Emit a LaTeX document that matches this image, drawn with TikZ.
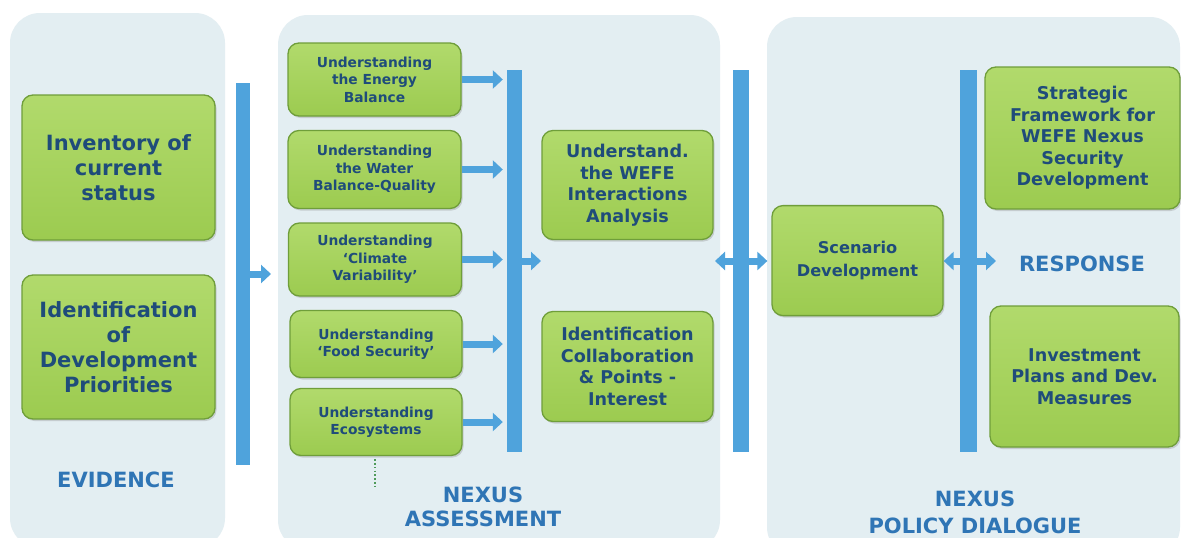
\documentclass[tikz,border=0pt]{standalone}
\usepackage{fontspec}
\setmainfont{DejaVu Sans}
\usetikzlibrary{arrows.meta,shadows}
\definecolor{panelbg}{HTML}{E3EEF2}
\definecolor{gtop}{HTML}{B1DA6C}
\definecolor{gbot}{HTML}{9CCB50}
\definecolor{gborder}{HTML}{6F9E3A}
\definecolor{tblue}{HTML}{1F4C7A}
\definecolor{lblue}{HTML}{2F75B5}
\definecolor{barblue}{HTML}{4FA3DC}
\definecolor{dotgreen}{HTML}{4E9A5A}
\tikzset{
  panel/.style={fill=panelbg, rounded corners=30pt, inner sep=0pt, draw=none},
  gbox/.style={draw=gborder, line width=1.3pt, rounded corners=11pt,
    top color=gtop, bottom color=gbot,
    drop shadow={opacity=0.3, shadow xshift=1.5pt, shadow yshift=-2pt},
    text=tblue, align=center, inner sep=2pt},
  bigtxt/.style={font=\fontsize{21}{25}\selectfont\bfseries},
  smalltxt/.style={font=\fontsize{13.8}{17.5}\selectfont\bfseries},
  midtxt/.style={font=\fontsize{17.6}{21.5}\selectfont\bfseries},
  lbl/.style={text=lblue, align=center, font=\fontsize{21}{24}\selectfont\bfseries},
  bar/.style={fill=barblue, inner sep=0pt, draw=none},
  barrow/.style={draw=barblue, line width=7pt, -{Triangle[length=10pt,width=18pt]}},
  dotline/.style={draw=dotgreen, line width=1.8pt, dash pattern=on 1.6pt off 2.2pt}
}
\begin{document}
\begin{tikzpicture}[x=1pt,y=-1pt]
\useasboundingbox (0,0) rectangle (1181,538);
\fill[white] (0,0) rectangle (1181,538);
% panels
\node[panel, minimum width=215pt, minimum height=535pt] (p1) at (117.5,280.5) {};
\node[panel, minimum width=442pt, minimum height=535pt] (p2) at (499,282.5) {};
\node[panel, minimum width=413pt, minimum height=540pt] (p3) at (973.5,287) {};
% bars
\node[bar, minimum width=14pt, minimum height=382pt] (bar1) at (243,274) {};
\node[bar, minimum width=15pt, minimum height=382pt] (bar2) at (514.5,261) {};
\node[bar, minimum width=16pt, minimum height=382pt] (bar3) at (741,261) {};
\node[bar, minimum width=17pt, minimum height=382pt] (bar4) at (968.5,261) {};
% evidence boxes
\node[gbox, bigtxt, minimum width=193pt, minimum height=145pt] (inv) at (118.5,167.5) {Inventory of\\current\\status};
\node[gbox, bigtxt, minimum width=193pt, minimum height=144pt] (idp) at (118.5,347) {Identification\\of\\Development\\Priorities};
\node[lbl] (ev) at (116,480) {EVIDENCE};
% assessment boxes
\node[gbox, smalltxt, minimum width=173pt, minimum height=73pt] (e1) at (374.5,79.5) {Understanding\\the Energy\\Balance};
\node[gbox, smalltxt, minimum width=173pt, minimum height=78pt] (e2) at (374.5,169.5) {Understanding\\the Water\\Balance-Quality};
\node[gbox, smalltxt, minimum width=173pt, minimum height=73pt] (e3) at (375,259.5) {Understanding\\‘Climate\\Variability’};
\node[gbox, smalltxt, minimum width=172pt, minimum height=67pt] (e4) at (376,344) {Understanding\\‘Food Security’};
\node[gbox, smalltxt, minimum width=172pt, minimum height=67pt] (e5) at (376,422) {Understanding\\Ecosystems};
\node[gbox, midtxt, minimum width=171pt, minimum height=109pt] (wefe) at (627.5,185) {Understand.\\the WEFE\\Interactions\\Analysis};
\node[gbox, midtxt, minimum width=171pt, minimum height=110pt] (coll) at (627.5,366.5) {Identification\\Collaboration\\\& Points -\\Interest};
\node[lbl] (na) at (483,507) {NEXUS\\ASSESSMENT};
% policy dialogue boxes
\node[gbox, font=\fontsize{16.2}{23}\selectfont\bfseries, minimum width=171pt, minimum height=110pt] (scen) at (857.5,260.6) {Scenario\\Development};
\node[gbox, midtxt, minimum width=195pt, minimum height=142pt] (strat) at (1082.5,138) {Strategic\\Framework for\\WEFE Nexus\\Security\\Development};
\node[gbox, midtxt, minimum width=189pt, minimum height=141pt] (inv2) at (1084.5,376.5) {Investment\\Plans and Dev.\\Measures};
\node[lbl] (resp) at (1082,264) {RESPONSE};
\node[lbl, font=\fontsize{21}{27}\selectfont\bfseries] (npd) at (975,512) {NEXUS\\POLICY DIALOGUE};
% free ends
\coordinate (a1) at (271,274);
\coordinate (a2) at (541,261);
\coordinate (a3l) at (715,261);
\coordinate (a4r) at (996,261);
\coordinate (dotend) at (375,487);
% arrows
\draw[barrow] (bar1.east) -- (a1);
\foreach \b in {e1,e2,e3,e4,e5}{
  \draw[barrow, shorten >=4pt] (\b.east) -- (\b.east -| bar2.west);
}
\draw[barrow] (bar2.east) -- (a2);
\draw[barrow] (bar3.center) -- (a3l);
\draw[barrow, shorten >=4pt] (bar3.center) -- (bar3.center -| scen.west);
\draw[barrow] (bar4.center) -- (bar4.center -| scen.east);
\draw[barrow] (bar4.center) -- (a4r);
\node[bar, minimum width=16pt, minimum height=382pt] at (bar3.center) {};
\node[bar, minimum width=17pt, minimum height=382pt] at (bar4.center) {};
\draw[dotline] (e5.south -| dotend) ++(0,3) -- (dotend);
\end{tikzpicture}
\end{document}
